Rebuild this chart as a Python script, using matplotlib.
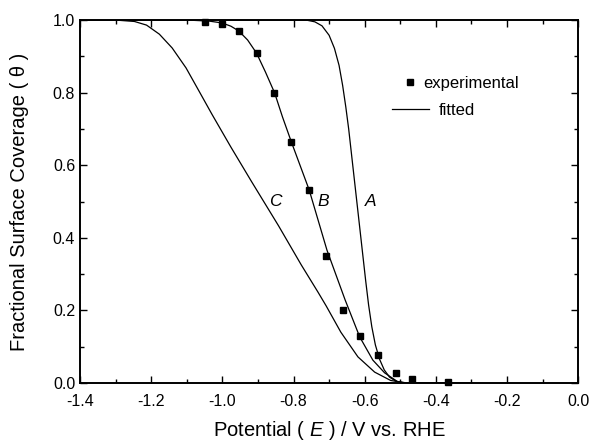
import matplotlib
matplotlib.use("Agg")
import matplotlib.pyplot as plt
from matplotlib.ticker import MultipleLocator
from matplotlib.lines import Line2D

plt.rcParams['font.family'] = ['Liberation Sans', 'DejaVu Sans']
plt.rcParams['mathtext.fontset'] = 'custom'
plt.rcParams['mathtext.rm'] = 'Liberation Sans'
plt.rcParams['mathtext.it'] = 'Liberation Sans:italic'

# experimental points
exp_E = [-1.05, -1.00, -0.954, -0.904, -0.856, -0.806, -0.756, -0.708,
         -0.660, -0.613, -0.563, -0.513, -0.466, -0.365]
exp_theta = [0.994, 0.989, 0.970, 0.909, 0.799, 0.664, 0.532, 0.350,
             0.201, 0.129, 0.077, 0.028, 0.011, 0.002]

# fitted curve A
a_E = [-1.40, -0.80, -0.76, -0.74, -0.72, -0.70, -0.685, -0.672, -0.662,
       -0.653, -0.645, -0.637, -0.629, -0.621, -0.613, -0.605, -0.597,
       -0.589, -0.580, -0.570, -0.558, -0.545, -0.530, -0.512, -0.490, -0.30]
a_theta = [1.0, 1.0, 0.999, 0.995, 0.984, 0.958, 0.922, 0.875, 0.820,
           0.760, 0.700, 0.630, 0.560, 0.490, 0.420, 0.350, 0.280,
           0.215, 0.155, 0.105, 0.065, 0.036, 0.016, 0.005, 0.0, 0.0]

# fitted curve B
b_E = [-1.40, -1.10, -1.037, -1.001, -0.976, -0.954, -0.929, -0.904, -0.879,
       -0.853, -0.831, -0.806, -0.756, -0.731, -0.706, -0.655, -0.614,
       -0.577, -0.544, -0.508, -0.480, -0.30]
b_theta = [1.0, 1.0, 0.997, 0.992, 0.983, 0.970, 0.945, 0.909, 0.857,
           0.799, 0.733, 0.664, 0.532, 0.449, 0.366, 0.229, 0.127,
           0.063, 0.028, 0.004, 0.0, 0.0]

# fitted curve C
c_E = [-1.40, -1.33, -1.288, -1.247, -1.213, -1.177, -1.141, -1.102, -1.066,
       -1.029, -0.976, -0.918, -0.842, -0.778, -0.731, -0.708, -0.667,
       -0.619, -0.572, -0.527, -0.490, -0.45, -0.30]
c_theta = [1.0, 1.0, 0.999, 0.996, 0.986, 0.961, 0.923, 0.868, 0.805,
           0.740, 0.650, 0.555, 0.433, 0.325, 0.250, 0.212, 0.140,
           0.072, 0.030, 0.007, 0.001, 0.0, 0.0]

fig = plt.figure(figsize=(5.9, 4.41), dpi=100)
ax = fig.add_axes([0.1356, 0.1315, 0.8444, 0.8231])

for E, th in [(a_E, a_theta), (b_E, b_theta), (c_E, c_theta)]:
    ax.plot(E, th, color='black', lw=0.9)
ax.plot(exp_E, exp_theta, 's', color='black', ms=5, clip_on=False)

for name, x in [('C', -0.851), ('B', -0.717), ('A', -0.583)]:
    ax.text(x, 0.499, name, fontsize=12.5, style='italic', ha='center', va='center')

ax.set_xlim(-1.4, 0.0)
ax.set_ylim(0.0, 1.0)
ax.xaxis.set_major_locator(MultipleLocator(0.2))
ax.xaxis.set_minor_locator(MultipleLocator(0.1))
ax.yaxis.set_major_locator(MultipleLocator(0.2))
ax.yaxis.set_minor_locator(MultipleLocator(0.1))
ax.tick_params(which='both', direction='in', top=True, right=True,
               labelsize=11.5, width=1.0)
ax.tick_params(axis='x', which='major', pad=8)
ax.tick_params(which='major', length=5)
ax.tick_params(which='minor', length=3)
for s in ax.spines.values():
    s.set_linewidth(1.4)

ax.set_xticklabels(['%.1f' % v for v in ax.get_xticks()])
ax.set_yticklabels(['%.1f' % v for v in ax.get_yticks()])

ax.set_xlabel(r'Potential ( $\it{E}$ ) / V vs. RHE', fontsize=14.5, labelpad=7)
ax.set_ylabel('Fractional Surface Coverage ( θ )', fontsize=14.5, labelpad=17)

# legend, two rows drawn as separate legends
h_exp = Line2D([], [], ls='none', marker='s', color='black', ms=5)
h_fit = Line2D([], [], color='black', lw=0.9)
leg1 = ax.legend([h_exp], ['experimental'], loc='center left',
                 bbox_to_anchor=(0.645, 0.826), frameon=False, fontsize=12,
                 borderpad=0, borderaxespad=0, handlelength=1.0,
                 handletextpad=0.3, numpoints=1)
ax.add_artist(leg1)
ax.legend([h_fit], ['fitted'], loc='center left',
          bbox_to_anchor=(0.627, 0.752), frameon=False, fontsize=12,
          borderpad=0, borderaxespad=0, handlelength=2.2, handletextpad=0.6)

fig.savefig('out.png', dpi=100)
